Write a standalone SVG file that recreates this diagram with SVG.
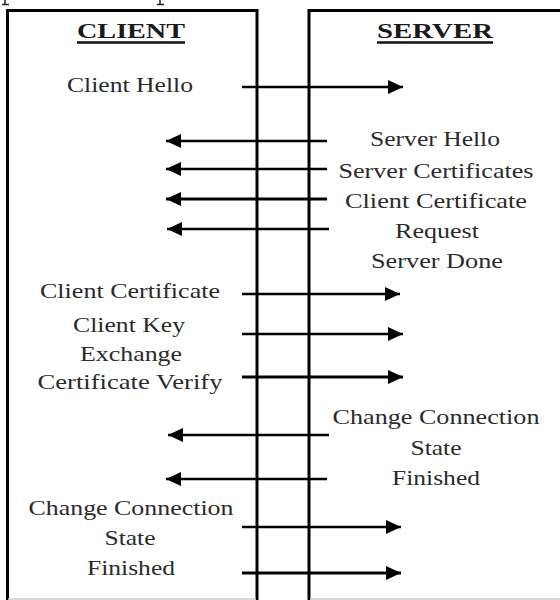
<svg xmlns="http://www.w3.org/2000/svg" width="560" height="600" viewBox="0 0 560 600">
<defs>
<marker id="ah" markerUnits="userSpaceOnUse" markerWidth="16" markerHeight="14" refX="15" refY="7" orient="auto">
<path d="M0,0 L15,7 L0,14 z" fill="#000"/>
</marker>
<style>
.t{font-family:"Liberation Serif","Times New Roman",serif;font-size:22px;fill:#2b2b2b;text-anchor:middle}
.h{font-weight:bold;fill:#1a1a1a}
.box{fill:none;stroke:#000;stroke-width:3}
.c{stroke:#000;stroke-width:2.3;fill:none;marker-end:url(#ah)}
.k{stroke-width:3}
</style>
</defs>
<rect width="560" height="600" fill="#fff"/>
<path d="M5,0 V4 M2,4.5 H9 M160,0 V4 M157,4.5 H164" stroke="#222" stroke-width="1.5"/>
<g id="client">
<path class="box" d="M7.5,600 V10.5 H257 V600"/>
<line x1="8" y1="599" x2="256" y2="599" stroke="#ccc" stroke-width="1.5"/>
<text class="t h" x="131" y="38" textLength="108" lengthAdjust="spacingAndGlyphs">CLIENT</text>
<line x1="77" y1="42.5" x2="185" y2="42.5" stroke="#111" stroke-width="2.5"/>
</g>
<g id="server">
<path class="box" d="M309,600 V10.5 H560"/>
<line x1="310" y1="599" x2="560" y2="599" stroke="#ccc" stroke-width="1.5"/>
<text class="t h" x="435" y="38" textLength="116" lengthAdjust="spacingAndGlyphs">SERVER</text>
<line x1="377" y1="42.5" x2="493" y2="42.5" stroke="#111" stroke-width="2.5"/>
</g>
<g id="client-labels">
<text class="t" x="130" y="92" textLength="126" lengthAdjust="spacingAndGlyphs">Client Hello</text>
<text class="t" x="130" y="298" textLength="180" lengthAdjust="spacingAndGlyphs">Client Certificate</text>
<text class="t" x="129" y="332" textLength="112" lengthAdjust="spacingAndGlyphs">Client Key</text>
<text class="t" x="131" y="361" textLength="102" lengthAdjust="spacingAndGlyphs">Exchange</text>
<text class="t" x="130" y="389" textLength="185" lengthAdjust="spacingAndGlyphs">Certificate Verify</text>
<text class="t" x="131" y="515" textLength="205" lengthAdjust="spacingAndGlyphs">Change Connection</text>
<text class="t" x="130" y="545" textLength="51" lengthAdjust="spacingAndGlyphs">State</text>
<text class="t" x="131" y="575" textLength="88" lengthAdjust="spacingAndGlyphs">Finished</text>
</g>
<g id="server-labels">
<text class="t" x="435" y="146" textLength="130" lengthAdjust="spacingAndGlyphs">Server Hello</text>
<text class="t" x="436" y="178" textLength="195" lengthAdjust="spacingAndGlyphs">Server Certificates</text>
<text class="t" x="436" y="208" textLength="182" lengthAdjust="spacingAndGlyphs">Client Certificate</text>
<text class="t" x="437" y="238" textLength="84" lengthAdjust="spacingAndGlyphs">Request</text>
<text class="t" x="437" y="268" textLength="132" lengthAdjust="spacingAndGlyphs">Server Done</text>
<text class="t" x="436" y="424" textLength="207" lengthAdjust="spacingAndGlyphs">Change Connection</text>
<text class="t" x="436" y="455" textLength="51" lengthAdjust="spacingAndGlyphs">State</text>
<text class="t" x="436" y="485" textLength="88" lengthAdjust="spacingAndGlyphs">Finished</text>
</g>
<g id="connectors">
<line class="c" x1="242" y1="87" x2="403" y2="87"/>
<line class="c" x1="327" y1="141" x2="166" y2="141"/>
<line class="c" x1="327" y1="169" x2="166" y2="169"/>
<line class="c k" x1="327" y1="199" x2="166" y2="199"/>
<line class="c" x1="329" y1="229" x2="167" y2="229"/>
<line class="c" x1="242" y1="294" x2="400" y2="294"/>
<line class="c" x1="242" y1="334" x2="403" y2="334"/>
<line class="c k" x1="242" y1="377" x2="403" y2="377"/>
<line class="c" x1="329" y1="435" x2="168" y2="435"/>
<line class="c" x1="327" y1="479" x2="166" y2="479"/>
<line class="c" x1="242" y1="527" x2="401" y2="527"/>
<line class="c k" x1="242" y1="573" x2="401" y2="573"/>
</g>
</svg>
